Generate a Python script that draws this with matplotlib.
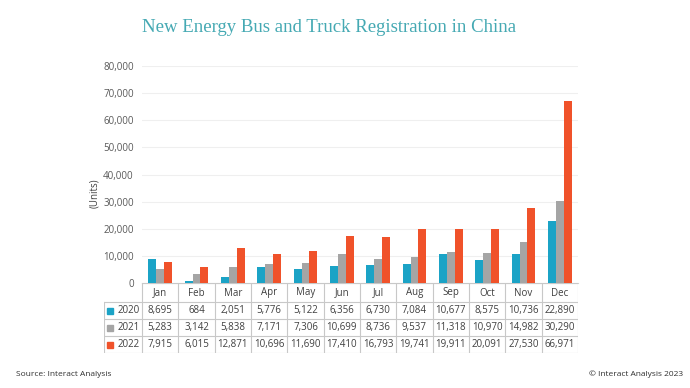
import numpy as np
import matplotlib.pyplot as plt
from matplotlib.ticker import FuncFormatter

months = ['Jan', 'Feb', 'Mar', 'Apr', 'May', 'Jun', 'Jul', 'Aug', 'Sep', 'Oct', 'Nov', 'Dec']
years = ['2020', '2021', '2022']
v2020 = [8695, 684, 2051, 5776, 5122, 6356, 6730, 7084, 10677, 8575, 10736, 22890]
v2021 = [5283, 3142, 5838, 7171, 7306, 10699, 8736, 9537, 11318, 10970, 14982, 30290]
v2022 = [7915, 6015, 12871, 10696, 11690, 17410, 16793, 19741, 19911, 20091, 27530, 66971]
colors = ['#1ba3c6', '#a5a5a5', '#f0522a']

plt.rcParams['font.family'] = ['Open Sans', 'DejaVu Sans']

W, H = 690, 388
fig = plt.figure(figsize=(W / 100, H / 100), dpi=100)

# main axes, pixel layout
ax_l, ax_r, ax_t, ax_b = 142, 578, 66, 283
ax = fig.add_axes([ax_l / W, 1 - ax_b / H, (ax_r - ax_l) / W, (ax_b - ax_t) / H])

x = np.arange(len(months))
bw = 0.22
for i, vals in enumerate([v2020, v2021, v2022]):
    ax.bar(x + (i - 1) * bw, vals, width=bw, color=colors[i], zorder=3)

ax.set_xlim(-0.5, 11.5)
ax.set_ylim(0, 80000)
ax.set_yticks(np.arange(0, 80001, 10000))
ax.yaxis.set_major_formatter(FuncFormatter(lambda v, p: f'{int(v):,}'))
ax.tick_params(axis='y', length=0, pad=6, labelsize=7, labelcolor='#595959')
ax.set_xticks([])
ax.grid(axis='y', color='#efefef', linewidth=0.8, zorder=0)
for s in ['top', 'right', 'left']:
    ax.spines[s].set_visible(False)
ax.spines['bottom'].set_color('#d0d0d0')
ax.spines['bottom'].set_linewidth(0.8)

fig.text(95 / W, 1 - 193 / H, '(Units)', rotation=90, ha='center', va='center',
         fontsize=7, color='#404040')

# data table under the chart
tb_l, tb_t, tb_b = 104, 283, 353
unit = (ax_r - ax_l) / 12.0
lab_w = (ax_l - tb_l) / unit
tax = fig.add_axes([tb_l / W, 1 - tb_b / H, (ax_r - tb_l) / W, (tb_b - tb_t) / H])
tax.set_xlim(-0.5 - lab_w, 11.5)
tax.set_ylim(tb_b - tb_t, 0)
tax.axis('off')
rows = [0, 19, 36, 53, 70]
lc = '#c8c8c8'
for k in range(13):
    xx = k - 0.5
    tax.plot([xx, xx], [0, 70], color=lc, linewidth=0.8)
tax.plot([-0.5 - lab_w, -0.5 - lab_w], [19, 70], color=lc, linewidth=0.8)
tax.plot([-0.5, 11.5], [0, 0], color=lc, linewidth=0.8)
for r in rows[1:]:
    tax.plot([-0.5 - lab_w, 11.5], [r, r], color=lc, linewidth=0.8)

for j, m in enumerate(months):
    tax.text(j, 10, m, ha='center', va='center', fontsize=7, color='#404040')
for i, vals in enumerate([v2020, v2021, v2022]):
    yc = (rows[i + 1] + rows[i + 2]) / 2
    for j, v in enumerate(vals):
        tax.text(j, yc, f'{v:,}', ha='center', va='center', fontsize=7, color='#404040')
    tax.plot(-0.5 - lab_w + 0.16, yc, marker='s', markersize=4.5, color=colors[i], linestyle='none')
    tax.text(-0.5 - 0.06, yc, years[i], ha='right', va='center', fontsize=7, color='#404040')

fig.text(329 / W, 1 - 28 / H, 'New Energy Bus and Truck Registration in China',
         ha='center', va='center', fontsize=13.5, color='#45a9b3',
         family=['Liberation Serif', 'DejaVu Serif'])
fig.text(16 / W, 1 - 374 / H, 'Source: Interact Analysis', ha='left', va='center',
         fontsize=6, color='#303030')
fig.text(683 / W, 1 - 374 / H, '\u00a9 Interact Analysis 2023', ha='right', va='center',
         fontsize=6, color='#303030')

plt.savefig('out.png', dpi=100)
